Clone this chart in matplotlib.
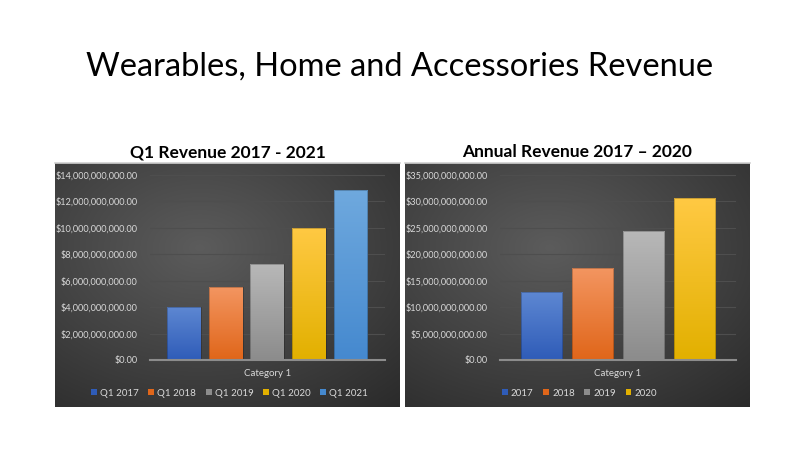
import numpy as np
import matplotlib.pyplot as plt
from matplotlib.patches import Rectangle
from matplotlib.colors import to_rgb
from matplotlib.ticker import FuncFormatter

# data
q1_labels = ['Q1 2017', 'Q1 2018', 'Q1 2019', 'Q1 2020', 'Q1 2021']
q1_values = [4.0e9, 5.5e9, 7.3e9, 10.0e9, 12.9e9]
annual_labels = ['2017', '2018', '2019', '2020']
annual_values = [12.8e9, 17.4e9, 24.5e9, 30.6e9]
category = 'Category 1'

# (top, bottom) colours for the bar gradients
q1_colors = [('#5d87d2', '#2f5cb8'), ('#f39560', '#e0661a'), ('#b8b8b8', '#8c8c8c'),
             ('#ffc943', '#e2b000'), ('#6fa9de', '#4589cf')]
annual_colors = q1_colors[:4]

plt.rcParams['font.family'] = ['Lato', 'DejaVu Sans']

W, H = 800, 450
fig = plt.figure(figsize=(8, 4.5), dpi=100)
fig.patch.set_facecolor('white')


def fx(px):
    return px / W


def fy(py):
    return 1 - py / H


fig.text(0.5, fy(67), 'Wearables, Home and Accessories Revenue', ha='center', va='center',
         fontsize=23.5, color='black')


def money(v, pos):
    return '${:,.2f}'.format(v)


def panel(x0, x1, plot_x0, plot_x1, title, labels, values, colors, ymax, step, xlim):
    # dark background with a soft radial highlight
    top, bot = 163, 407
    bg = fig.add_axes([fx(x0), fy(bot), fx(x1 - x0), (bot - top) / H])
    yy, xx = np.mgrid[0:1:200j, 0:1:300j]
    r = np.sqrt(((xx - 0.42) / 0.9) ** 2 + ((yy - 0.35) / 0.9) ** 2)
    shade = np.clip(1 - r, 0, 1)
    lo = np.array([0.16, 0.16, 0.16])
    hi = np.array([0.36, 0.36, 0.36])
    img = lo + (hi - lo) * shade[..., None]
    bg.imshow(img, aspect='auto', extent=[0, 1, 0, 1], origin='upper')
    bg.axis('off')
    bg.plot([0, 1], [1, 1], color='#d0d0d0', lw=1.2, transform=bg.transAxes, clip_on=False)

    fig.text(fx((x0 + x1) / 2), fy(152), title, ha='center', va='center',
             fontsize=12.5, fontweight='bold', color='black')

    ax = fig.add_axes([fx(plot_x0), fy(360), fx(plot_x1 - plot_x0), (360 - 175) / H])
    ax.patch.set_alpha(0)
    xs = np.arange(len(values))
    bars = ax.bar(xs, values, width=0.81, color='none', edgecolor='none', zorder=3)
    grad = np.linspace(0, 1, 64)[:, None]
    for b, (ctop, cbot) in zip(bars, colors):
        c1 = np.array(to_rgb(ctop))
        c2 = np.array(to_rgb(cbot))
        g = c1 + (c2 - c1) * grad[..., None]
        im = ax.imshow(g, aspect='auto', origin='upper', zorder=3,
                       extent=[b.get_x(), b.get_x() + b.get_width(), 0, b.get_height()])
        im.set_clip_path(b)
        ax.add_patch(Rectangle((b.get_x(), 0), b.get_width(), b.get_height(), fill=False,
                               edgecolor=(0, 0, 0, 0.25), lw=0.6, zorder=4))
    ax.set_xlim(*xlim)
    ax.set_ylim(0, ymax)
    ax.set_yticks(np.arange(0, ymax + step / 2, step))
    ax.yaxis.set_major_formatter(FuncFormatter(money))
    ax.grid(axis='y', color='#4e4e4e', lw=0.8, zorder=0)
    ax.set_axisbelow(True)
    for s in ['top', 'right', 'left']:
        ax.spines[s].set_visible(False)
    ax.spines['bottom'].set_color('#8c8c8c')
    ax.spines['bottom'].set_linewidth(1.5)
    ax.spines['bottom'].set_zorder(5)
    ax.tick_params(axis='y', length=0, labelsize=6.6, labelcolor='#d9d9d9', pad=9)
    ax.set_xticks([])
    fig.text(fx((plot_x0 + plot_x1) / 2), fy(373), category, ha='center', va='center',
             fontsize=7, color='#d9d9d9')

    handles = [Rectangle((0, 0), 1, 1, facecolor=c[1]) for c in colors]
    leg = fig.legend(handles, labels, loc='center', bbox_to_anchor=(fx((x0 + x1) / 2 + 2), fy(393)),
                     ncol=len(labels), frameon=False, fontsize=7, handlelength=0.6,
                     handleheight=0.6, handletextpad=0.3, columnspacing=1.0)
    for t in leg.get_texts():
        t.set_color('#d9d9d9')


panel(55, 400, 150, 385, 'Q1 Revenue 2017 - 2021', q1_labels, q1_values, q1_colors,
      14e9, 2e9, (-0.82, 4.83))
panel(405, 750, 500, 736, 'Annual Revenue 2017 \u2013 2020', annual_labels, annual_values,
      annual_colors, 35e9, 5e9, (-0.81, 3.81))

fig.savefig('out.png', dpi=100, facecolor='white')
